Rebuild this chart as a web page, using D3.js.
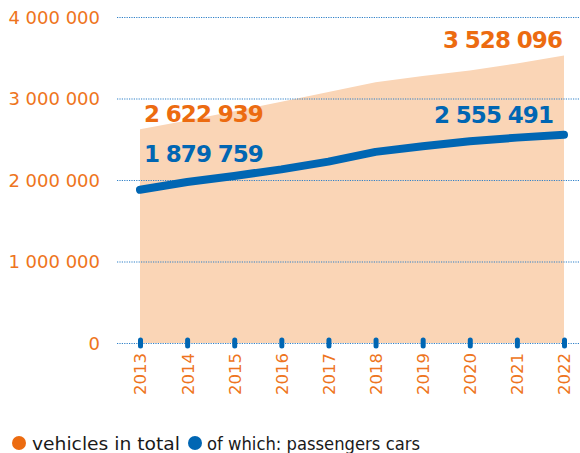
<!DOCTYPE html>
<html>
<head>
<meta charset="utf-8">
<script src="https://cdn.jsdelivr.net/npm/d3@7"></script>
<style>
  html, body { margin: 0; padding: 0; background: #fff; }
  svg { display: block; font-family: "DejaVu Sans", sans-serif; }
</style>
</head>
<body>
<svg id="chart" width="580" height="453"></svg>
<script>
// Registered vehicles by year
const years = [2013, 2014, 2015, 2016, 2017, 2018, 2019, 2020, 2021, 2022];
const vehiclesTotal = [2622939, 2730000, 2845000, 2960000, 3080000, 3200000, 3275000, 3345000, 3430000, 3528096];
const passengerCars = [1879759, 1975000, 2050000, 2130000, 2225000, 2345000, 2415000, 2475000, 2520000, 2555491];
const yTicks = [0, 1000000, 2000000, 3000000, 4000000];
const seriesNames = ["vehicles in total", "of which: passengers cars"];

const ORANGE = "#ec6b10";
const ORANGE_AXIS = "#ee7420";
const AREA = "#fad5b6";
const BLUE = "#0066b3";
const GRID = "#2f80c8";

const svg = d3.select("#chart");

const x = d3.scalePoint().domain(years).range([140, 564]);
const y = d3.scaleLinear().domain([0, 4000000]).range([343, 17]);

const fmt = v => d3.format(",")(v).replace(/,/g, " ");

// Area for all vehicles
const area = d3.area()
  .x((d, i) => x(years[i]))
  .y0(y(0))
  .y1(d => y(d));
svg.append("path")
  .datum(vehiclesTotal)
  .attr("d", area)
  .attr("fill", AREA);

// Dotted grid lines with value labels
const yAxis = d3.axisLeft(y).tickValues(yTicks).tickSize(0).tickFormat(fmt);
const gy = svg.append("g").attr("transform", "translate(117,0)").call(yAxis);
gy.select(".domain").remove();
gy.selectAll(".tick text")
  .attr("x", -17)
  .attr("dy", "0.36em")
  .attr("fill", ORANGE_AXIS)
  .style("font-size", "18px")
  .style("font-family", "DejaVu Sans, sans-serif");
gy.selectAll(".tick").append("line")
  .attr("x1", 0).attr("x2", 580 - 117)
  .attr("stroke", GRID)
  .attr("stroke-width", 1.2)
  .attr("stroke-dasharray", "1.2,1.2");

// Passenger cars line
const line = d3.line()
  .x((d, i) => x(years[i]))
  .y(d => y(d));
svg.append("path")
  .datum(passengerCars)
  .attr("d", line)
  .attr("fill", "none")
  .attr("stroke", BLUE)
  .attr("stroke-width", 8)
  .attr("stroke-linecap", "round")
  .attr("stroke-linejoin", "round");

// Year markers and rotated year labels
const xAxis = d3.axisBottom(x).tickSize(0).tickFormat(d3.format("d"));
const gx = svg.append("g").attr("transform", `translate(0,${y(0)})`).call(xAxis);
gx.select(".domain").remove();
gx.selectAll(".tick").insert("rect", "text")
  .attr("x", -2.5).attr("y", -5.5)
  .attr("width", 5).attr("height", 11)
  .attr("rx", 2.5)
  .attr("fill", BLUE);
gx.selectAll(".tick text")
  .attr("transform", "rotate(-90)")
  .attr("x", -10)
  .attr("y", 0)
  .attr("dy", "0.36em")
  .attr("text-anchor", "end")
  .attr("fill", ORANGE_AXIS)
  .style("font-size", "16.5px")
  .style("font-family", "DejaVu Sans, sans-serif");

// Start and end value labels
const labels = [
  { v: vehiclesTotal[0], xPos: x(years[0]) + 4, yPos: 122, color: ORANGE, anchor: "start" },
  { v: passengerCars[0], xPos: x(years[0]) + 4, yPos: 162, color: BLUE, anchor: "start" },
  { v: vehiclesTotal[9], xPos: 562, yPos: 48, color: ORANGE, anchor: "end" },
  { v: passengerCars[9], xPos: 553, yPos: 123, color: BLUE, anchor: "end" }
];
svg.selectAll("text.val")
  .data(labels)
  .join("text")
  .attr("class", "val")
  .attr("x", d => d.xPos)
  .attr("y", d => d.yPos)
  .attr("text-anchor", d => d.anchor)
  .attr("fill", d => d.color)
  .style("font-size", "23px")
  .style("font-weight", "bold")
  .style("letter-spacing", "-0.9px")
  .style("word-spacing", "-0.5px")
  .text(d => fmt(d.v));

// Legend
const legend = [
  { name: seriesNames[0], color: ORANGE, cx: 19, tx: 32, len: 148 },
  { name: seriesNames[1], color: BLUE, cx: 195, tx: 207, len: 213 }
];
const lg = svg.append("g");
lg.selectAll("circle")
  .data(legend)
  .join("circle")
  .attr("cx", d => d.cx).attr("cy", 443)
  .attr("r", 7)
  .attr("fill", d => d.color);
lg.selectAll("text")
  .data(legend)
  .join("text")
  .attr("x", d => d.tx).attr("y", 450)
  .attr("fill", "#1a1a1a")
  .attr("textLength", d => d.len)
  .attr("lengthAdjust", "spacingAndGlyphs")
  .style("font-size", "18px")
  .text(d => d.name);
</script>
</body>
</html>
